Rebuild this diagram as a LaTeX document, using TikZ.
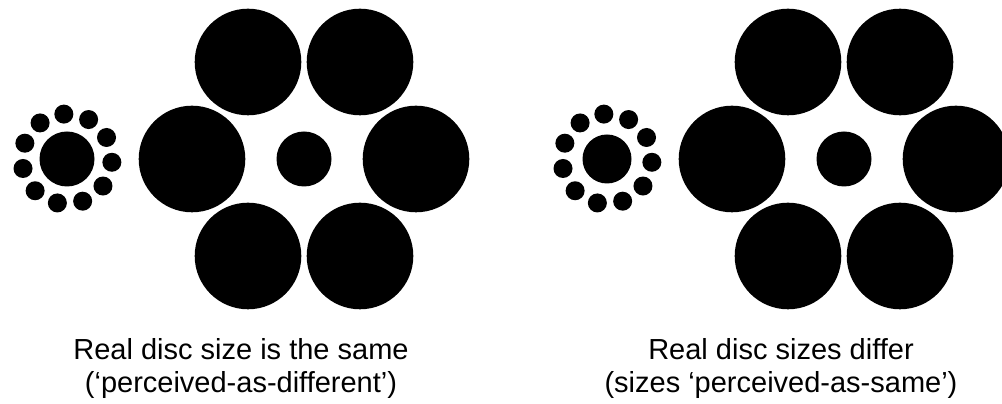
\documentclass[tikz,border=0pt]{standalone}
\usepackage{fontspec}
\setmainfont{Liberation Sans}
\usetikzlibrary{positioning}

\begin{document}
\begin{tikzpicture}[x=1pt, y=1pt,
          d/.style={fill=black},
          t/.style={font=\fontsize{29}{33}\selectfont, inner sep=0pt, anchor=base}]
        \useasboundingbox (0,0) rectangle (1002,404);
        \clip (0,0) rectangle (1002,404);
        \fill[white] (0,0) rectangle (1002,404);
        % small surround (11 dots)
        \foreach \cx/\cr in {67/27.5, 607/24.5} {
          \fill[d] (\cx,245) circle (\cr);
          \foreach \k in {0,...,10}
            \fill[d] (\cx,245) ++(94-\k*32.727:45) circle (9.5);
        }
        % large surround (6 discs)
        \foreach \cx in {304, 844} {
          \fill[d] (\cx,245) circle (27.5);
          \foreach \a in {0,60,...,300}
            \fill[d] (\cx,245) ++(\a:112) circle (53.3);
        }
        \node[t] (same1) at (241,44) {Real disc size is the same};
        \node[t] (same2) at (241,11) {(‘perceived-as-different’)};
        \node[t] (diff1) at (781,44) {Real disc sizes differ};
        \node[t] (diff2) at (781,11) {(sizes ‘perceived-as-same’)};
      \end{tikzpicture}
\end{document}
